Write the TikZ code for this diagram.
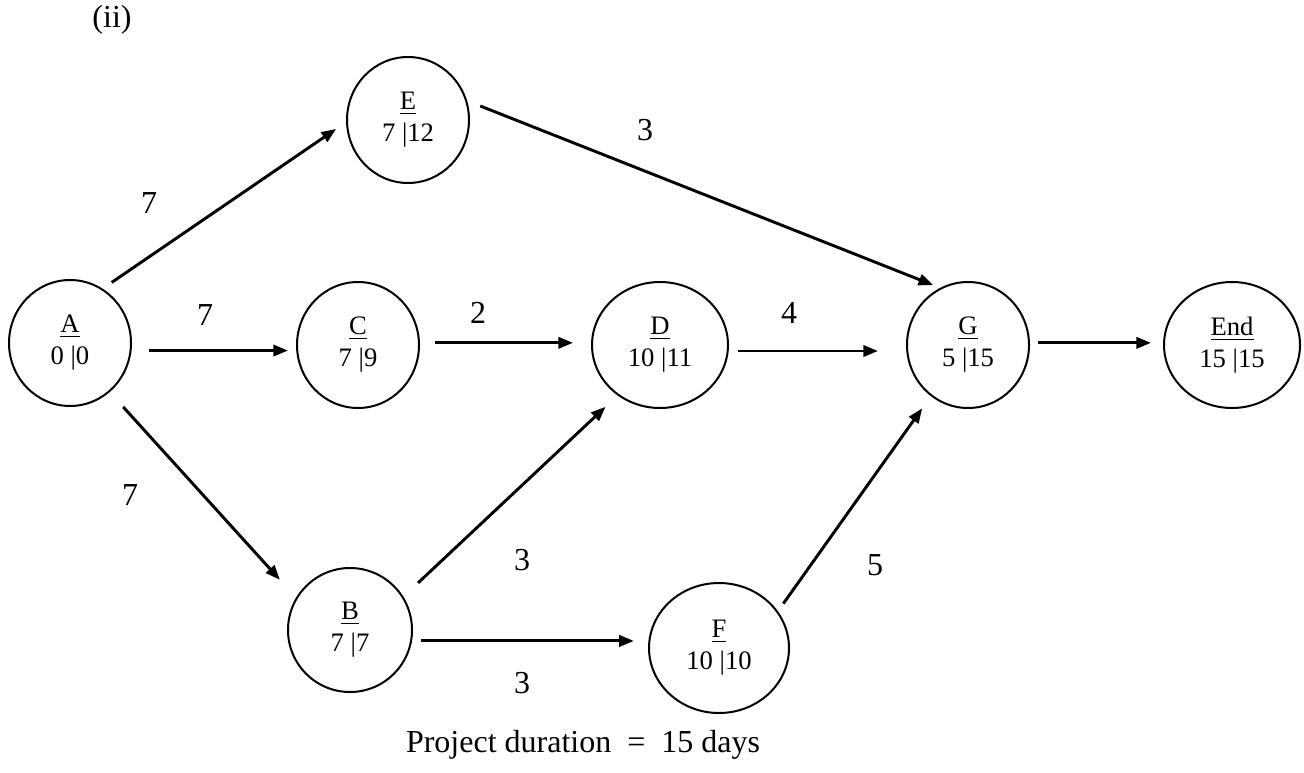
\documentclass[tikz,border=0pt]{standalone}
\usepackage{fontspec}
\setmainfont{Liberation Serif}
\usetikzlibrary{shapes, arrows.meta, calc, positioning}

\begin{document}
\begin{tikzpicture}[x=0.375pt, y=-0.375pt, >={Triangle[length=5.5pt,width=4.2pt]}]
    \tikzstyle{event} = [draw, ellipse, line width=0.75pt, inner sep=0pt,
	minimum width=45.75pt, minimum height=47.25pt, align=center, font=\normalsize]
    \tikzstyle{wide} = [minimum width=51pt]
    \tikzstyle{lbl} = [font=\large, inner sep=0pt]

    \useasboundingbox (0,0) rectangle (1304,773);

		\node[lbl] (part) at (112,20) {(ii)};

		\path[->, line width=1.1pt]
			node[event] (A) at (70,343) {\underline{A}\\0 |0}
			node[event] (E) at (408,120) {\underline{E}\\7 |12}
			node[event] (C) at (358,345) {\underline{C}\\7 |9}
			node[event, wide] (D) at (660,345) {\underline{D}\\10 |11}
			node[event] (G) at (968,345) {\underline{G}\\5 |15}
			node[event, wide] (End) at (1232,345) {\underline{End}\\15 |15}
			node[event, minimum width=46.5pt, minimum height=46.5pt] (B) at (350,630) {\underline{B}\\7 |7}
			node[event, minimum width=52.5pt, minimum height=48.75pt] (F) at (719,648) {\underline{F}\\10 |10}

			(A.59) edge[shorten <=4.1pt, shorten >=4.5pt] (E.182)
			(A.-7) edge[shorten <=6.6pt, shorten >=3pt] (C.west |- A.-7)
			(A.-51) edge[shorten <=7.5pt, shorten >=9pt] (B.149)
			(C.2) edge[shorten <=5.6pt, shorten >=6.75pt] (D.west |- C.2)
			(D.-5) edge[shorten <=3.4pt, shorten >=10.5pt] (G.west |- D.-5)
			(G.2) edge[shorten <=3pt, shorten >=4.5pt] (End.west |- G.2)
			(E.18) edge[shorten <=5.3pt, shorten >=2.8pt] (G.116)
			(B.32) edge[shorten <=7.5pt, shorten >=6.2pt] (D.230)
			(B.-10) edge[shorten <=3.4pt, shorten >=5.3pt] (F.west |- B.-10)
			(F.32) edge[shorten <=3.5pt, shorten >=5.6pt] (G.234)
		;

		% durations
		\node[lbl] (tAE) at (149,203) {7};
		\node[lbl] (tAC) at (205,315) {7};
		\node[lbl] (tAB) at (130,495) {7};
		\node[lbl] (tCD) at (478,313) {2};
		\node[lbl] (tDG) at (789,313) {4};
		\node[lbl] (tEG) at (645,130) {3};
		\node[lbl] (tBD) at (522,560) {3};
		\node[lbl] (tBF) at (522,683) {3};
		\node[lbl] (tFG) at (875,565) {5};

		\node[lbl] (dur) at (583,745) {Project duration~~=~~15 days};

\end{tikzpicture}
\end{document}
